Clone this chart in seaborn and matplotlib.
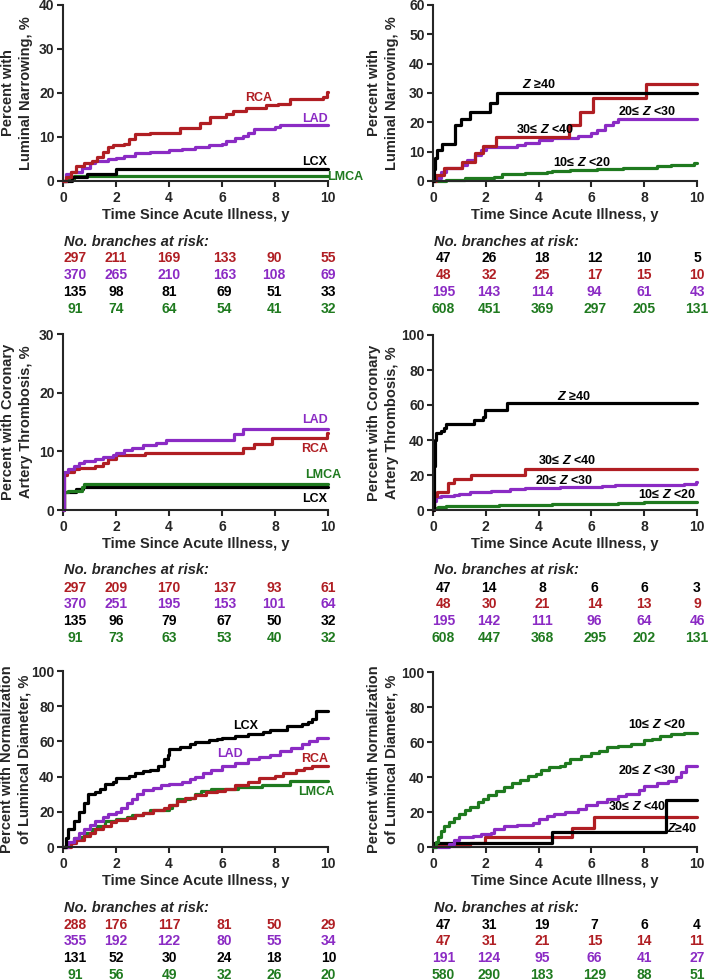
import matplotlib
matplotlib.use('Agg')
import matplotlib.pyplot as plt
import matplotlib.transforms as mtransforms
import pandas as pd
import seaborn as sns

# ---------------- data ----------------
# Panel A: luminal narrowing by branch
A_RCA_t = [0, 0.1, 0.3, 0.5, 0.8, 1.1, 1.3, 1.5, 1.7, 1.9, 2.3, 2.5, 2.7, 3.27, 4.4, 5.16, 5.53, 6.16, 6.4, 6.9, 7.67, 8.1, 8.55, 9.8, 9.95, 10]
A_RCA_v = [0, 1, 2, 3.5, 4.2, 4.6, 5.5, 6.5, 7.8, 8.2, 8.5, 9.5, 10.6, 11, 12, 13.1, 14.6, 15.2, 16, 16.7, 17.2, 17.6, 18.7, 19.2, 20.2, 20.2]
A_LAD_t = [0, 0.1, 0.3, 0.7, 1.0, 1.2, 1.7, 2.0, 2.3, 2.7, 3.3, 4.0, 4.5, 5.0, 5.5, 6.0, 6.15, 6.5, 6.8, 7.0, 7.2, 8.0, 8.2, 10]
A_LAD_v = [0, 1.5, 2.0, 3.0, 4.0, 4.6, 5.0, 5.3, 5.7, 6.3, 6.6, 7.0, 7.3, 7.8, 8.1, 8.3, 9.1, 9.8, 10.3, 11.0, 11.8, 12.3, 12.7, 12.7]
A_LCX_t = [0, 0.35, 0.9, 2.0, 10]
A_LCX_v = [0, 0.8, 1.7, 2.7, 2.7]
A_LMCA_t = [0, 0.2, 0.4, 10]
A_LMCA_v = [0, 0.5, 1.1, 1.1]

# Panel B: luminal narrowing by Z score
B_Z40_t = [0, 0.03, 0.08, 0.15, 0.35, 0.85, 1.05, 1.4, 2.15, 2.42, 10]
B_Z40_v = [0, 4, 8, 10.6, 12.5, 19.1, 21, 23.5, 26.5, 29.9, 29.9]
B_Z30_t = [0, 0.1, 0.4, 1.1, 1.6, 1.9, 2.4, 5.14, 5.58, 6.06, 8.05, 10]
B_Z30_v = [0, 2, 4.5, 6.6, 9.4, 12, 15.1, 19.2, 23.5, 28.2, 32.9, 32.9]
B_Z20_t = [0, 0.05, 0.3, 0.5, 1.1, 1.3, 1.6, 1.8, 2.0, 3.2, 3.5, 4.0, 4.5, 5.5, 6.0, 6.2, 6.5, 6.8, 7.0, 10]
B_Z20_v = [0, 1, 3, 4.5, 5.5, 7, 9, 10.5, 11.7, 12.2, 13.1, 14, 14.5, 15.3, 16.2, 17.5, 19.1, 20, 21, 21]
B_Z10_t = [0, 0.5, 1.2, 2.3, 2.6, 3.5, 4.3, 4.5, 5.2, 6.2, 7.2, 8.5, 9.0, 9.9, 10]
B_Z10_v = [0, 0.5, 1.0, 1.5, 2.5, 2.7, 3.0, 3.5, 3.8, 4.0, 4.5, 5.0, 5.5, 6.2, 6.2]

# Panel C: thrombosis by branch
C_LAD_t = [0, 0.05, 0.2, 0.4, 0.6, 0.8, 1.2, 1.5, 1.9, 2.0, 2.3, 2.6, 3.0, 3.5, 3.9, 6.45, 6.8, 10]
C_LAD_v = [0, 6.5, 7.0, 7.5, 8.0, 8.3, 8.7, 9.1, 9.3, 9.7, 10.2, 10.5, 11.0, 11.4, 11.95, 13.0, 13.8, 13.8]
C_RCA_t = [0, 0.05, 0.15, 0.4, 0.6, 1.2, 1.5, 1.7, 2.0, 3.1, 6.8, 7.2, 7.9, 9.95, 10]
C_RCA_v = [0, 6.0, 6.5, 7.0, 7.2, 7.5, 8.0, 8.65, 9.3, 9.8, 10.5, 11.3, 12.3, 13.2, 13.2]
C_LMCA_t = [0, 0.02, 0.2, 0.7, 0.8, 10]
C_LMCA_v = [0, 3.0, 3.3, 4.0, 4.4, 4.4]
C_LCX_t = [0, 0.05, 0.5, 0.75, 10]
C_LCX_v = [0, 3.0, 3.5, 3.9, 3.9]

# Panel D: thrombosis by Z score
D_Z40_t = [0, 0.02, 0.04, 0.06, 0.1, 0.3, 0.4, 0.5, 1.54, 1.9, 1.98, 2.8, 10]
D_Z40_v = [0, 10, 25, 40, 44.2, 45, 47, 49.1, 51.4, 53, 57.1, 61, 61]
D_Z30_t = [0, 0.02, 0.05, 0.15, 0.55, 0.8, 1.45, 3.5, 10]
D_Z30_v = [0, 5, 8, 10.5, 15.2, 17.5, 20, 23.2, 23.2]
D_Z20_t = [0, 0.02, 0.1, 0.3, 0.8, 1.0, 1.4, 1.8, 2.2, 2.9, 3.5, 4.8, 6.4, 6.9, 9.5, 9.95, 10]
D_Z20_v = [0, 5, 7.6, 8, 8.5, 9, 10, 10.5, 11, 12, 12.5, 13, 13.5, 14.5, 15, 16, 16]
D_Z10_t = [0, 0.05, 0.2, 0.5, 1.3, 2.5, 4.5, 6.3, 7.0, 8.0, 9.5, 10]
D_Z10_v = [0, 1, 1.5, 2, 2.5, 3, 3.3, 3.5, 4, 4.5, 4.8, 4.8]

# Panel E: normalization by branch
E_LCX_t = [0, 0.1, 0.2, 0.4, 0.6, 0.8, 0.95, 1.2, 1.4, 1.6, 1.9, 2.0, 2.5, 2.7, 3.0, 3.3, 3.6, 3.8, 3.95, 4.0, 4.4, 4.8, 5.0, 5.5, 5.8, 6.0, 6.5, 7.0, 7.55, 7.8, 8.45, 9.0, 9.25, 9.4, 9.55, 10]
E_LCX_v = [0, 5, 10, 15, 20, 25, 30.3, 31, 33, 36, 37, 39.4, 40.5, 42, 43, 44, 45.8, 50, 52, 55.7, 57, 58.5, 59.5, 60.6, 61.5, 61.9, 62.9, 64, 65.5, 66.7, 68.9, 70, 71, 73, 77.1, 77.1]
E_LAD_t = [0, 0.2, 0.4, 0.6, 0.8, 1.0, 1.2, 1.5, 1.7, 2.0, 2.2, 2.4, 2.6, 2.8, 3.0, 3.4, 3.7, 4.0, 4.5, 4.8, 5.0, 5.3, 5.6, 6.0, 6.5, 7.0, 7.4, 7.8, 8.2, 8.6, 9.0, 9.3, 9.6, 10]
E_LAD_v = [0, 3, 5, 8, 10, 12.5, 15, 17, 19, 20, 22, 25, 27.5, 30, 32.2, 33.5, 35, 36, 37, 38.5, 39.8, 42, 44, 46.2, 48, 50.2, 51, 52.5, 54.5, 56.5, 58.5, 60, 62, 62]
E_RCA_t = [0, 0.3, 0.5, 0.8, 1.0, 1.2, 1.5, 1.8, 2.0, 2.4, 2.7, 3.0, 3.4, 3.8, 4.0, 4.3, 4.6, 5.0, 5.4, 5.8, 6.1, 6.5, 7.0, 7.4, 8.0, 8.3, 8.8, 9.1, 9.4, 10]
E_RCA_v = [0, 2, 4, 6, 8, 10, 12, 14, 15.5, 16.5, 18, 19.5, 21, 22, 24, 26.1, 28, 29.5, 31, 32, 33, 35, 37, 39, 40.2, 42, 43.5, 45, 45.8, 45.8]
E_LMCA_t = [0, 0.15, 0.4, 0.6, 0.8, 1.1, 1.3, 1.6, 2.0, 2.4, 2.6, 3.0, 3.3, 4.0, 4.1, 4.3, 4.8, 5.0, 5.2, 5.6, 6.6, 7.5, 8.55, 10]
E_LMCA_v = [0, 2, 5, 5.5, 8, 10, 12, 14.5, 16, 17, 18, 19.5, 21, 22, 24, 27, 28, 30, 32, 33, 34, 35, 37.5, 37.5]

# Panel F: normalization by Z score
F_Z10_t = [0, 0.1, 0.2, 0.3, 0.4, 0.6, 0.8, 1.0, 1.2, 1.4, 1.7, 1.9, 2.1, 2.4, 2.7, 3.0, 3.3, 3.6, 3.9, 4.1, 4.4, 4.8, 5.0, 5.2, 5.6, 6.0, 6.3, 6.6, 7.0, 7.5, 8.0, 8.3, 8.6, 9.0, 9.5, 10]
F_Z10_v = [0, 3, 6, 9, 12, 14.5, 16.5, 19, 21, 23, 25.5, 27.5, 30, 32, 34.5, 36.5, 38.5, 40.5, 42, 44, 45.5, 46.5, 48, 50.5, 52, 53.5, 55, 57, 58, 59, 61, 62, 63.5, 64.5, 65, 65]
F_Z20_t = [0, 0.6, 0.8, 1.0, 1.5, 1.8, 2.2, 2.3, 2.7, 3.2, 3.8, 4.0, 4.3, 4.6, 5.0, 5.5, 5.8, 6.2, 6.6, 7.0, 7.3, 7.8, 8.0, 8.5, 8.9, 9.2, 9.4, 9.6, 10]
F_Z20_v = [0, 2, 4, 6, 6.5, 7.5, 8, 10.5, 12, 12.5, 14, 16, 18, 19, 20, 22, 24, 25.5, 27.5, 29, 30.5, 32.5, 35, 36.5, 38, 40, 43, 46.5, 46.5]
F_Z30_t = [0, 1.4, 1.98, 5.27, 6.08, 10]
F_Z30_v = [0.5, 2.3, 5.7, 11, 17.1, 17.1]
F_Z40_t = [0, 0.05, 4.5, 8.84, 10]
F_Z40_v = [0, 2.3, 8.6, 26.7, 26.7]

# at-risk tables
A_risk = [[297, 211, 169, 133, 90, 55], [370, 265, 210, 163, 108, 69], [135, 98, 81, 69, 51, 33], [91, 74, 64, 54, 41, 32]]
B_risk = [[47, 26, 18, 12, 10, 5], [48, 32, 25, 17, 15, 10], [195, 143, 114, 94, 61, 43], [608, 451, 369, 297, 205, 131]]
C_risk = [[297, 209, 170, 137, 93, 61], [370, 251, 195, 153, 101, 64], [135, 96, 79, 67, 50, 32], [91, 73, 63, 53, 40, 32]]
D_risk = [[47, 14, 8, 6, 6, 3], [48, 30, 21, 14, 13, 9], [195, 142, 111, 96, 64, 46], [608, 447, 368, 295, 202, 131]]
E_risk = [[288, 176, 117, 81, 50, 29], [355, 192, 122, 80, 55, 34], [131, 52, 30, 24, 18, 10], [91, 56, 49, 32, 26, 20]]
F_risk = [[47, 31, 19, 7, 6, 4], [47, 31, 21, 15, 14, 11], [191, 124, 95, 66, 41, 27], [580, 290, 183, 129, 88, 51]]

x_ticks = [0, 2, 4, 6, 8, 10]
risk_x_left = [0.45, 2.0, 4.0, 6.1, 7.97, 10.02]
risk_x_right = [0.4, 2.12, 4.13, 6.12, 8.0, 10.0]

# ---------------- style ----------------
sns.set_style('ticks')
plt.rcParams['font.family'] = ['Liberation Sans', 'DejaVu Sans']
plt.rcParams['font.weight'] = 'bold'
plt.rcParams['axes.labelweight'] = 'bold'
plt.rcParams['mathtext.fontset'] = 'custom'
plt.rcParams['mathtext.it'] = 'Liberation Sans:italic:bold'
plt.rcParams['mathtext.rm'] = 'Liberation Sans:bold'
plt.rcParams['mathtext.bf'] = 'Liberation Sans:bold'

RED = '#B01E23'
PURPLE = '#8B2BC4'
BLACK = '#000000'
GREEN = '#1F7A1F'

W, H = 709, 980
fig = plt.figure(figsize=(W / 100, H / 100), dpi=100)
fig.patch.set_facecolor('white')


def make_ax(x0, x1, ytop, ybot):
    return fig.add_axes([x0 / W, 1 - ybot / H, (x1 - x0) / W, (ybot - ytop) / H])


def draw(ax, series, ymax, ystep, ylabel, ylab_x, labels, risk, risk_colors, risk_x):
    rows = []
    for name, t, v, c in series:
        for ti, vi in zip(t, v):
            rows.append({'time': ti, 'pct': vi, 'group': name})
    df = pd.DataFrame(rows)
    pal = {name: c for name, t, v, c in series}
    order = [name for name, t, v, c in series]
    sns.lineplot(data=df, x='time', y='pct', hue='group', hue_order=order, palette=pal,
                 estimator=None, sort=False, legend=False, drawstyle='steps-post',
                 linewidth=2.3, clip_on=False, ax=ax)
    ax.set_xlim(0, 10)
    ax.set_ylim(0, ymax)
    ax.set_xticks(x_ticks)
    ax.set_yticks(list(range(0, ymax + 1, ystep)))
    sns.despine(ax=ax)
    for s in ['left', 'bottom']:
        ax.spines[s].set_linewidth(1.5)
    ax.tick_params(axis='both', direction='out', length=4, width=1.5, labelsize=10, pad=2)
    ax.tick_params(axis='x', pad=3)
    hpx = ax.get_position().height * H
    ax.set_xlabel('Time Since Acute Illness, y', fontsize=10.5, fontweight='bold')
    ax.xaxis.label.set_va('center')
    ax.xaxis.set_label_coords(0.5, -34 / hpx)
    ax.set_ylabel(ylabel, fontsize=10.5, fontweight='bold', linespacing=1.3, multialignment='center')
    ax.yaxis.label.set_va('center')
    ax.yaxis.set_label_coords(ylab_x, 0.5)
    for txt, x, y, c in labels:
        ax.text(x, y, txt, color=c, fontsize=9, fontweight='bold', ha='center', va='center')
    tr = mtransforms.blended_transform_factory(ax.transData, ax.transAxes)
    ax.text(0.05, -60.5 / hpx, 'No. branches at risk:', transform=tr, fontsize=10.5,
            fontweight='bold', fontstyle='italic', ha='left', va='center')
    for i, (vals, c) in enumerate(zip(risk, risk_colors)):
        yy = -(77.5 + 16.7 * i) / hpx
        for xv, n in zip(risk_x, vals):
            ax.text(xv, yy, str(n), transform=tr, color=c, fontsize=10, fontweight='bold',
                    ha='center', va='center')


left_colors = [RED, PURPLE, BLACK, GREEN]
right_colors = [BLACK, RED, PURPLE, GREEN]

axA = make_ax(63, 328, 5, 181)
draw(axA,
     [('LMCA', A_LMCA_t, A_LMCA_v, GREEN), ('LCX', A_LCX_t, A_LCX_v, BLACK),
      ('LAD', A_LAD_t, A_LAD_v, PURPLE), ('RCA', A_RCA_t, A_RCA_v, RED)],
     40, 10, 'Percent with\nLuminal Narrowing, %', -0.174,
     [('RCA', 7.4, 18.8, RED), ('LAD', 9.5, 14.2, PURPLE), ('LCX', 9.5, 4.4, BLACK),
      ('LMCA', 10.65, 1.0, GREEN)],
     A_risk, left_colors, risk_x_left)

axB = make_ax(433, 697, 5, 181)
draw(axB,
     [('10', B_Z10_t, B_Z10_v, GREEN), ('20', B_Z20_t, B_Z20_v, PURPLE),
      ('30', B_Z30_t, B_Z30_v, RED), ('40', B_Z40_t, B_Z40_v, BLACK)],
     60, 10, 'Percent with\nLuminal Narrowing, %', -0.189,
     [('$Z$ ≥40', 4.0, 33.0, BLACK), ('30≤ $Z$ <40', 4.25, 17.4, BLACK),
      ('20≤ $Z$ <30', 8.1, 23.6, BLACK), ('10≤ $Z$ <20', 5.64, 6.2, BLACK)],
     B_risk, right_colors, risk_x_right)

axC = make_ax(63, 328, 334, 510)
draw(axC,
     [('LCX', C_LCX_t, C_LCX_v, BLACK), ('LMCA', C_LMCA_t, C_LMCA_v, GREEN),
      ('RCA', C_RCA_t, C_RCA_v, RED), ('LAD', C_LAD_t, C_LAD_v, PURPLE)],
     30, 10, 'Percent with Coronary\nArtery Thrombosis, %', -0.174,
     [('LAD', 9.5, 15.4, PURPLE), ('RCA', 9.5, 10.4, RED), ('LMCA', 9.8, 6.0, GREEN),
      ('LCX', 9.5, 1.9, BLACK)],
     C_risk, left_colors, risk_x_left)

axD = make_ax(433, 697, 335, 510)
draw(axD,
     [('10', D_Z10_t, D_Z10_v, GREEN), ('20', D_Z20_t, D_Z20_v, PURPLE),
      ('30', D_Z30_t, D_Z30_v, RED), ('40', D_Z40_t, D_Z40_v, BLACK)],
     100, 20, 'Percent with Coronary\nArtery Thrombosis, %', -0.189,
     [('$Z$ ≥40', 5.33, 65.0, BLACK), ('30≤ $Z$ <40', 5.08, 28.0, BLACK),
      ('20≤ $Z$ <30', 4.95, 16.8, BLACK), ('10≤ $Z$ <20', 8.86, 9.1, BLACK)],
     D_risk, right_colors, risk_x_right)

axE = make_ax(63, 328, 671, 847)
draw(axE,
     [('LMCA', E_LMCA_t, E_LMCA_v, GREEN), ('RCA', E_RCA_t, E_RCA_v, RED),
      ('LAD', E_LAD_t, E_LAD_v, PURPLE), ('LCX', E_LCX_t, E_LCX_v, BLACK)],
     100, 20, 'Percent with Normalization\nof Lumincal Diameter, %', -0.178,
     [('LCX', 6.9, 68.6, BLACK), ('LAD', 6.3, 53.0, PURPLE), ('RCA', 9.5, 50.2, RED),
      ('LMCA', 9.55, 31.2, GREEN)],
     E_risk, left_colors, risk_x_left)

axF = make_ax(433, 697, 672, 847)
draw(axF,
     [('30', F_Z30_t, F_Z30_v, RED), ('40', F_Z40_t, F_Z40_v, BLACK),
      ('20', F_Z20_t, F_Z20_v, PURPLE), ('10', F_Z10_t, F_Z10_v, GREEN)],
     100, 20, 'Percent with Normalization\nof Lumincal Diameter, %', -0.189,
     [('10≤ $Z$ <20', 8.48, 70.0, BLACK), ('20≤ $Z$ <30', 8.1, 43.8, BLACK),
      ('30≤ $Z$ <40', 7.73, 22.9, BLACK), ('$Z$≥40', 9.43, 10.5, BLACK)],
     F_risk, right_colors, risk_x_right)

fig.savefig('out.png', dpi=100, facecolor='white')
